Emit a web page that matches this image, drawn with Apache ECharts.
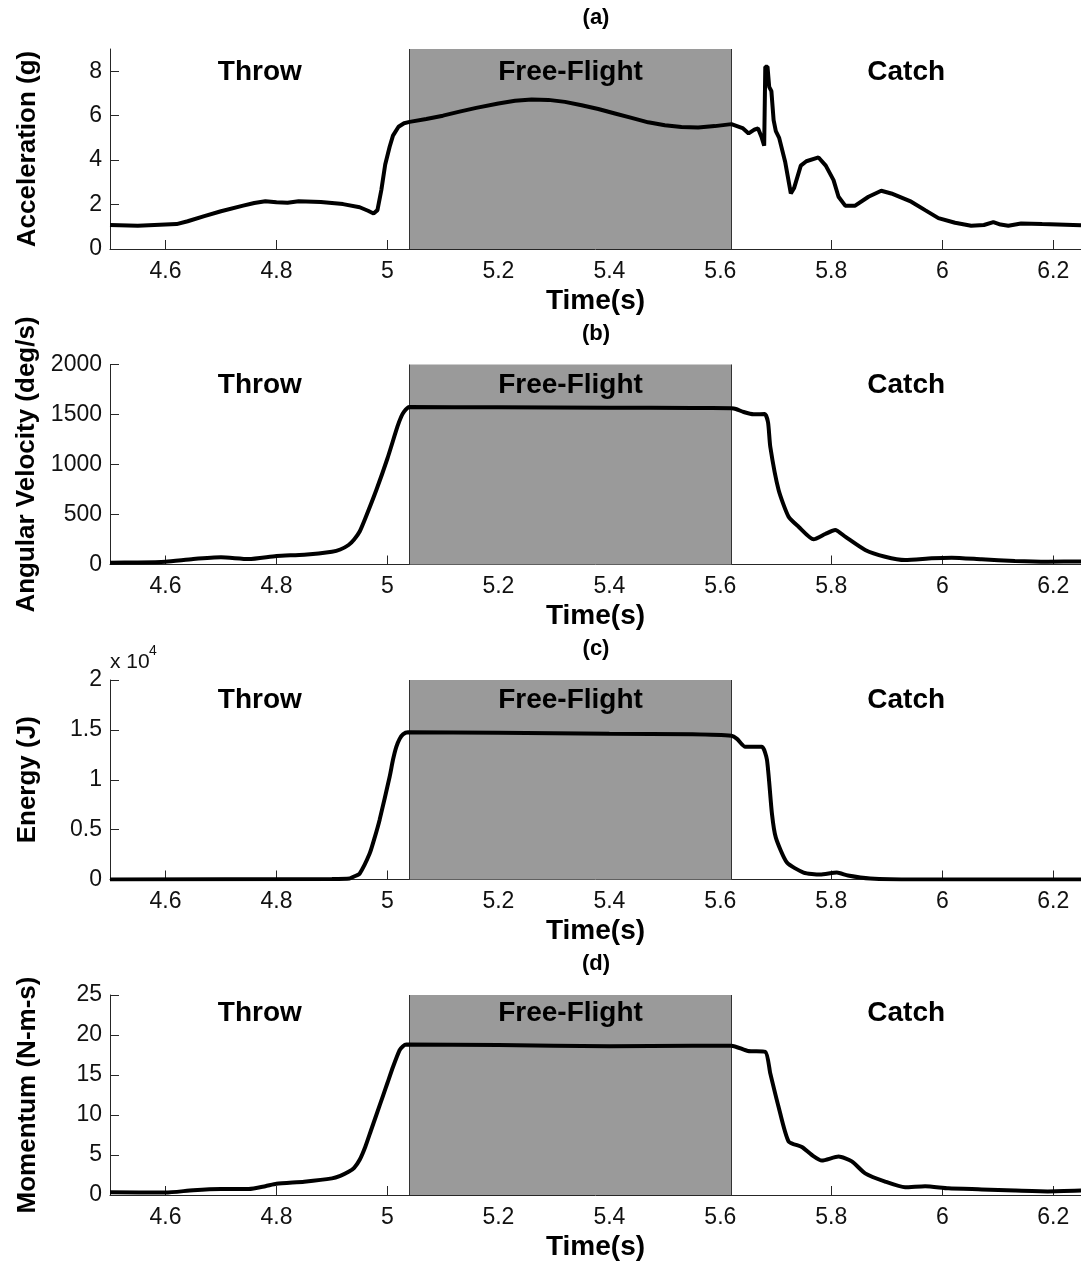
<!DOCTYPE html>
<html>
<head>
<meta charset="utf-8">
<style>
  html, body { margin: 0; padding: 0; background: #fff; }
  #main { width: 1081px; height: 1264px; }
</style>
<script src="https://cdn.jsdelivr.net/npm/echarts@6/dist/echarts.min.js"></script>
</head>
<body>
<div id="main"></div>
<script>
// time ticks shared by all four panels
const xTicks = [4.6, 4.8, 5, 5.2, 5.4, 5.6, 5.8, 6, 6.2];

// phases
const phaseNames = ["Throw", "Free-Flight", "Catch"];
const phaseLabelX = [4.77, 5.33, 5.935];
const flightStart = 5.04;
const flightEnd = 5.62;

// (a) acceleration, g
const accT = [4.5, 4.55, 4.6, 4.62, 4.64, 4.67, 4.7, 4.74, 4.76, 4.78, 4.8, 4.82, 4.84, 4.88, 4.92, 4.95, 4.965, 4.975, 4.982, 4.989, 4.996, 5.004, 5.01, 5.02, 5.03, 5.04, 5.07, 5.1, 5.13, 5.16, 5.2, 5.23, 5.26, 5.29, 5.32, 5.35, 5.38, 5.41, 5.44, 5.47, 5.5, 5.53, 5.56, 5.59, 5.62, 5.64, 5.651, 5.662, 5.668, 5.674, 5.679, 5.681, 5.685, 5.688, 5.692, 5.696, 5.7, 5.706, 5.717, 5.727, 5.733, 5.745, 5.755, 5.777, 5.79, 5.804, 5.813, 5.825, 5.843, 5.867, 5.89, 5.908, 5.944, 5.969, 5.993, 6.023, 6.052, 6.075, 6.092, 6.105, 6.119, 6.142, 6.18, 6.25];
const accV = [1.08, 1.05, 1.1, 1.12, 1.25, 1.48, 1.7, 1.95, 2.07, 2.15, 2.1, 2.08, 2.15, 2.12, 2.02, 1.88, 1.72, 1.6, 1.75, 2.65, 3.8, 4.6, 5.1, 5.5, 5.66, 5.72, 5.85, 6.0, 6.18, 6.35, 6.55, 6.67, 6.73, 6.71, 6.62, 6.47, 6.3, 6.1, 5.9, 5.7, 5.57, 5.49, 5.47, 5.53, 5.62, 5.44, 5.2, 5.38, 5.42, 5.05, 4.65, 8.2, 8.2, 7.3, 7.1, 5.8, 5.3, 5.0, 3.9, 2.5, 2.75, 3.75, 3.95, 4.12, 3.75, 3.1, 2.35, 1.95, 1.95, 2.35, 2.62, 2.5, 2.13, 1.75, 1.39, 1.18, 1.05, 1.08, 1.21, 1.1, 1.05, 1.15, 1.12, 1.07];
const accTicks = [0, 2, 4, 6, 8];

// (b) angular velocity, deg/s
const angT = [4.5, 4.55, 4.6, 4.65, 4.7, 4.75, 4.8, 4.85, 4.9, 4.915, 4.93, 4.94, 4.95, 4.96, 4.98, 5.0, 5.018, 5.025, 5.03, 5.036, 5.04, 5.2, 5.4, 5.55, 5.62, 5.628, 5.642, 5.66, 5.68, 5.686, 5.69, 5.705, 5.723, 5.741, 5.768, 5.789, 5.807, 5.825, 5.861, 5.897, 5.933, 5.981, 6.017, 6.071, 6.131, 6.191, 6.25];
const angV = [18, 20, 28, 55, 72, 55, 85, 98, 128, 150, 195, 250, 330, 460, 745, 1060, 1378, 1480, 1528, 1565, 1575, 1572, 1568, 1565, 1562, 1555, 1525, 1502, 1505, 1420, 1178, 745, 478, 378, 252, 305, 345, 278, 145, 78, 45, 62, 68, 52, 35, 28, 30];
const angTicks = [0, 500, 1000, 1500, 2000];

// (c) energy, x10^4 J
const enT = [4.5, 4.9, 4.932, 4.94, 4.95, 4.968, 4.977, 4.986, 5.004, 5.01, 5.016, 5.022, 5.028, 5.037, 5.2, 5.4, 5.55, 5.62, 5.63, 5.645, 5.675, 5.684, 5.693, 5.7, 5.72, 5.75, 5.78, 5.81, 5.83, 5.87, 5.95, 6.25];
const enV = [0, 0.005, 0.01, 0.03, 0.06, 0.26, 0.42, 0.6, 1.03, 1.2, 1.33, 1.41, 1.455, 1.475, 1.47, 1.46, 1.455, 1.44, 1.41, 1.33, 1.33, 1.2, 0.66, 0.42, 0.17, 0.07, 0.05, 0.07, 0.04, 0.01, 0, 0];
const enTicks = [0, 0.5, 1, 1.5, 2];

// (d) momentum, N-m-s
const momT = [4.5, 4.6, 4.65, 4.7, 4.75, 4.78, 4.8, 4.85, 4.9, 4.915, 4.93, 4.94, 4.95, 4.96, 4.97, 4.98, 4.992, 5.0, 5.01, 5.022, 5.028, 5.034, 5.2, 5.4, 5.55, 5.62, 5.65, 5.681, 5.69, 5.705, 5.723, 5.747, 5.765, 5.783, 5.813, 5.837, 5.861, 5.897, 5.933, 5.969, 6.011, 6.071, 6.131, 6.19, 6.25];
const momV = [0.35, 0.3, 0.6, 0.75, 0.75, 1.1, 1.4, 1.67, 2.08, 2.4, 2.9, 3.4, 4.4, 6.0, 8.0, 10.0, 12.4, 14, 16, 18.1, 18.6, 18.8, 18.75, 18.6, 18.65, 18.67, 18.0, 17.9, 15.2, 11, 6.7, 6.0, 5.0, 4.3, 4.8, 4.2, 2.7, 1.67, 0.96, 1.1, 0.83, 0.7, 0.55, 0.45, 0.55];
const momTicks = [0, 5, 10, 15, 20, 25];

const FONT = "'Liberation Sans', Arial, Helvetica, sans-serif";
const AXIS_COLOR = "#262626";

const panels = [
  { tag: "(a)", name: "Acceleration (g)", t: accT, v: accV, ticks: accTicks, max: 9, labelY: 7.95, top: 49, h: 200, smooth: false },
  { tag: "(b)", name: "Angular Velocity (deg/s)", t: angT, v: angV, ticks: angTicks, max: 2000, labelY: 1795, top: 364.5, h: 200, smooth: 0.2 },
  { tag: "(c)", name: "Energy (J)", t: enT, v: enV, ticks: enTicks, max: 2, labelY: 1.8, top: 680, h: 199.5, smooth: 0.2 },
  { tag: "(d)", name: "Momentum (N-m-s)", t: momT, v: momV, ticks: momTicks, max: 25, labelY: 22.7, top: 995, h: 200, smooth: 0.2 },
];

let grid = [];
let xAxis = [];
let yAxis = [];
let series = [];
let graphic = [];

panels.forEach((p, i) => {
  grid.push({ left: 110, width: 973, top: p.top, height: p.h });
  xAxis.push({
    type: "value",
    gridIndex: i,
    min: 4.5,
    max: 6.25,
    name: "Time(s)",
    nameLocation: "middle",
    nameGap: 38,
    nameTextStyle: { fontFamily: FONT, fontSize: 28, fontWeight: "bold", color: "#000" },
    axisLine: { show: true, lineStyle: { color: AXIS_COLOR, width: 1 } },
    axisTick: { show: true, inside: true, length: 9, customValues: xTicks, lineStyle: { color: AXIS_COLOR } },
    axisLabel: { customValues: xTicks, margin: 11, fontFamily: FONT, fontSize: 23, color: "#111" },
    splitLine: { show: false },
  });
  yAxis.push({
    type: "value",
    gridIndex: i,
    min: 0,
    max: p.max,
    name: p.name,
    nameLocation: "middle",
    nameGap: 69,
    nameRotate: 90,
    nameTextStyle: { fontFamily: FONT, fontSize: 26, fontWeight: "bold", color: "#000" },
    axisLine: { show: true, lineStyle: { color: AXIS_COLOR, width: 1 } },
    axisTick: { show: true, inside: true, length: 9, customValues: p.ticks, lineStyle: { color: AXIS_COLOR } },
    axisLabel: {
      customValues: p.ticks,
      margin: 8,
      fontFamily: FONT,
      fontSize: 23,
      color: "#111",
      formatter: (v) => String(v),
    },
    splitLine: { show: false },
  });
  series.push({
    type: "line",
    xAxisIndex: i,
    yAxisIndex: i,
    data: p.t.map((t, k) => [t, p.v[k]]),
    smooth: p.smooth,
    showSymbol: false,
    symbol: "none",
    lineStyle: { color: "#000", width: 4 },
    z: 5,
    markArea: {
      silent: true,
      itemStyle: { color: "#9a9a9a" },
      data: [[{ xAxis: flightStart }, { xAxis: flightEnd }]],
    },
    markLine: {
      silent: true,
      symbol: "none",
      label: { show: false },
      lineStyle: { color: "#333", width: 1, type: "solid" },
      data: [{ xAxis: flightStart }, { xAxis: flightEnd }],
    },
    markPoint: {
      silent: true,
      symbol: "rect",
      symbolSize: 1,
      itemStyle: { color: "transparent" },
      label: {
        show: true,
        position: "inside",
        formatter: (d) => d.name,
        fontFamily: FONT,
        fontSize: 28,
        fontWeight: "bold",
        color: "#000",
      },
      data: phaseNames.map((n, k) => ({ name: n, coord: [phaseLabelX[k], p.labelY] })),
    },
  });
  graphic.push({
    type: "text",
    x: 596,
    y: p.top - 31,
    style: {
      text: p.tag,
      font: "bold 22px " + FONT,
      fill: "#000",
      align: "center",
      verticalAlign: "middle",
    },
  });
});

// exponent marker on the energy axis
graphic.push({
  type: "text",
  x: 110,
  y: 662,
  style: { text: "x 10", font: "21px " + FONT, fill: "#111", align: "left", verticalAlign: "middle" },
});
graphic.push({
  type: "text",
  x: 149,
  y: 651,
  style: { text: "4", font: "14px " + FONT, fill: "#111", align: "left", verticalAlign: "middle" },
});

let myChart = echarts.init(document.getElementById("main"));
let option = {
  animation: false,
  backgroundColor: "#fff",
  grid: grid,
  xAxis: xAxis,
  yAxis: yAxis,
  series: series,
  graphic: graphic,
};
option && myChart.setOption(option);
</script>
</body>
</html>
